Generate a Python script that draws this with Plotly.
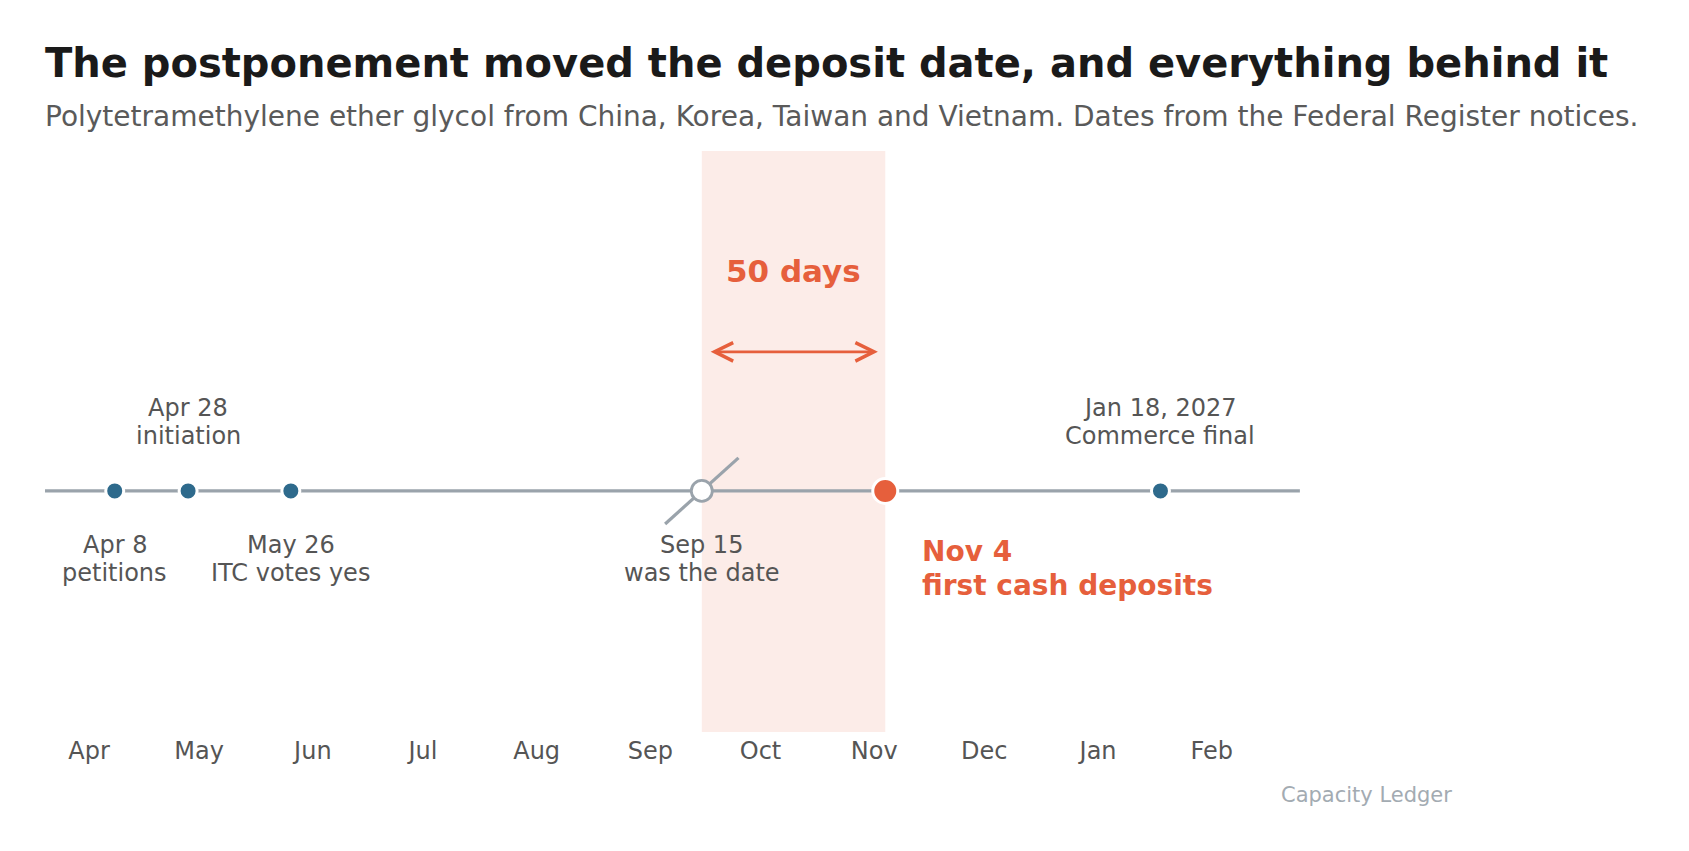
import plotly.graph_objects as go

# timeline data
line_start = "2026-03-20"
line_end = "2027-02-25"

event_dates = ["2026-04-08", "2026-04-28", "2026-05-26", "2027-01-18"]
event_titles = ["Apr 8", "Apr 28", "May 26", "Jan 18, 2027"]
event_notes = ["petitions", "initiation", "ITC votes yes", "Commerce final"]
event_side = ["below", "above", "below", "above"]

old_date = "2026-09-15"
old_title = "Sep 15"
old_note = "was the date"
new_date = "2026-11-04"
new_title = "Nov 4"
new_note = "first cash deposits"
gap_label = "50 days"
gap_mid = "2026-10-10"

month_ticks = ["2026-04-01", "2026-05-01", "2026-06-01", "2026-07-01", "2026-08-01",
               "2026-09-01", "2026-10-01", "2026-11-01", "2026-12-01", "2027-01-01",
               "2027-02-01"]
month_text = ["Apr", "May", "Jun", "Jul", "Aug", "Sep", "Oct", "Nov", "Dec", "Jan", "Feb"]

slash_x = ["2026-09-05", "2026-09-25"]
slash_y = [-0.137, 0.137]

title = "The postponement moved the deposit date, and everything behind it"
subtitle = ("Polytetramethylene ether glycol from China, Korea, Taiwan and Vietnam. "
            "Dates from the Federal Register notices.")

BLUE = "#2E6A8C"
ORANGE = "#E65F3C"
GREY = "#9AA3AB"
TEXT = "#555555"
FONT = "DejaVu Sans"

fig = go.Figure()

# 50-day window
fig.add_shape(type="rect", xref="x", yref="paper", x0=old_date, x1=new_date,
              y0=0, y1=1, fillcolor="#FCECE8", line_width=0, layer="below")

fig.add_trace(go.Scatter(x=[line_start, line_end], y=[0, 0], mode="lines",
                         line=dict(color=GREY, width=3.2), hoverinfo="skip"))

fig.add_trace(go.Scatter(x=slash_x, y=slash_y, mode="lines",
                         line=dict(color=GREY, width=3.2), hoverinfo="skip"))

fig.add_trace(go.Scatter(x=event_dates, y=[0] * len(event_dates), mode="markers",
                         marker=dict(size=18, color=BLUE, line=dict(color="white", width=3))))

fig.add_trace(go.Scatter(x=[old_date], y=[0], mode="markers",
                         marker=dict(size=21, color="white", line=dict(color=GREY, width=2.8))))

fig.add_trace(go.Scatter(x=[new_date], y=[0], mode="markers",
                         marker=dict(size=25, color=ORANGE, line=dict(color="white", width=3))))


def two_line(x, top, bottom, side):
    if side == "above":
        shifts = (83, 55)
    else:
        shifts = (-54, -82)
    for txt, s in zip((top, bottom), shifts):
        fig.add_annotation(x=x, y=0, text=txt, showarrow=False, yshift=s,
                           yanchor="middle", font=dict(size=24, color=TEXT, family=FONT))


for d, t, n, side in zip(event_dates, event_titles, event_notes, event_side):
    two_line(d, t, n, side)

two_line(old_date, old_title, old_note, "below")

for txt, s in zip((new_title, new_note), (-61, -95)):
    fig.add_annotation(x=new_date, y=0, text="<b>" + txt + "</b>", showarrow=False,
                       yshift=s, xshift=35, xanchor="left", yanchor="middle",
                       font=dict(size=28, color=ORANGE, family=FONT))

# double-headed arrow across the window
fig.add_annotation(x="2026-11-02", y=0.577, ax="2026-09-17", ay=0.577,
                   xref="x", yref="y", axref="x", ayref="y", text="",
                   showarrow=True, arrowhead=5, startarrowhead=5, arrowside="end+start",
                   arrowsize=1.3, startarrowsize=1.3, arrowwidth=2.8, arrowcolor=ORANGE,
                   standoff=0, startstandoff=0)

fig.add_annotation(x=gap_mid, y=0.912, text="<b>" + gap_label + "</b>", showarrow=False,
                   yanchor="middle", font=dict(size=31, color=ORANGE, family=FONT))

# title block
fig.add_annotation(xref="paper", yref="paper", x=0, y=1.152, text="<b>" + title + "</b>",
                   showarrow=False, xanchor="left", yanchor="middle", xshift=-2,
                   font=dict(size=40, color="#1a1a1a", family=FONT))
fig.add_annotation(xref="paper", yref="paper", x=0, y=1.060, text=subtitle,
                   showarrow=False, xanchor="left", yanchor="middle", xshift=-2,
                   font=dict(size=28, color="#5a5a5a", family=FONT))

fig.add_annotation(xref="paper", yref="paper", x=1, y=-0.108, text="Capacity Ledger",
                   showarrow=False, xanchor="right", yanchor="middle",
                   font=dict(size=21, color="#A3ABB2", family=FONT))

fig.update_layout(
    width=1689, height=851,
    margin=dict(l=37, r=243, t=143, b=127),
    paper_bgcolor="white", plot_bgcolor="white",
    showlegend=False,
    font=dict(family=FONT, color=TEXT),
    xaxis=dict(type="date", range=["2026-03-20", "2027-04-08"],
               tickvals=month_ticks, ticktext=month_text,
               showgrid=False, zeroline=False, showline=False, ticks="",
               ticklabelstandoff=2,
               tickfont=dict(size=24, color=TEXT, family=FONT)),
    yaxis=dict(range=[-1, 1.41], visible=False, showgrid=False, zeroline=False),
)

fig.write_html("out.html")
